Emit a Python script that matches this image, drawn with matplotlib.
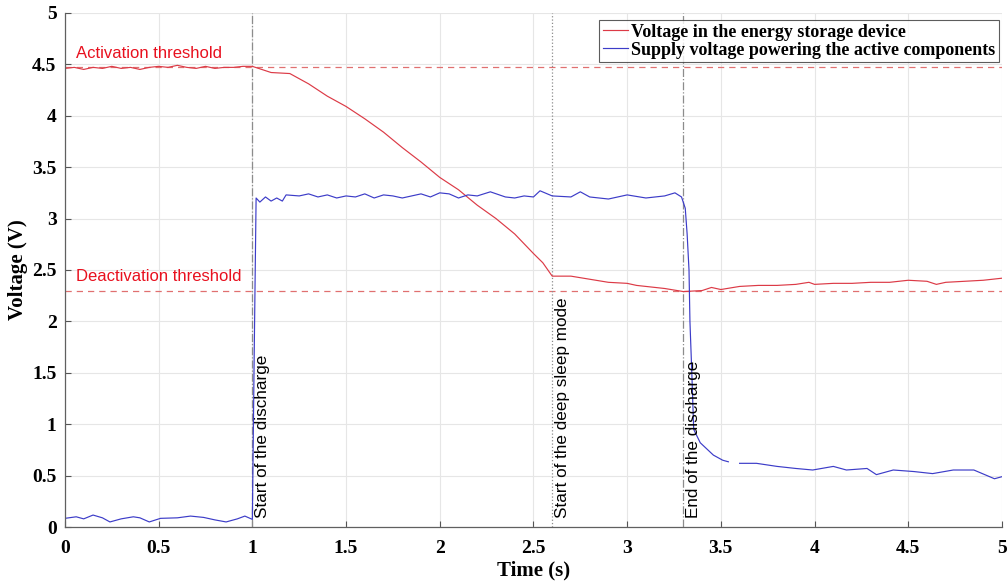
import numpy as np
import matplotlib
matplotlib.use("Agg")
import matplotlib.pyplot as plt

# Values
red_t = [0, 0.05, 0.1, 0.15, 0.2, 0.25, 0.3, 0.35, 0.4, 0.45, 0.5, 0.55, 0.6, 0.65,
         0.7, 0.75, 0.8, 0.85, 0.9, 0.95, 1.0, 1.05, 1.1, 1.2, 1.3, 1.4, 1.5, 1.6,
         1.7, 1.8, 1.9, 2.0, 2.1, 2.2, 2.3, 2.4, 2.5, 2.55, 2.6, 2.7, 2.8, 2.9, 3.0,
         3.05, 3.1, 3.2, 3.3, 3.4, 3.45, 3.5, 3.6, 3.7, 3.8, 3.9, 3.97, 4.0, 4.1,
         4.2, 4.3, 4.4, 4.5, 4.6, 4.65, 4.7, 4.8, 4.9, 5.0]
red_v = [4.46, 4.47, 4.45, 4.47, 4.46, 4.48, 4.46, 4.47, 4.45, 4.47, 4.48, 4.47,
         4.49, 4.47, 4.46, 4.48, 4.46, 4.47, 4.47, 4.48, 4.48, 4.45, 4.42, 4.41,
         4.31, 4.19, 4.09, 3.97, 3.84, 3.69, 3.55, 3.40, 3.28, 3.13, 3.00, 2.85,
         2.66, 2.57, 2.44, 2.44, 2.41, 2.38, 2.37, 2.35, 2.34, 2.32, 2.29, 2.30,
         2.33, 2.31, 2.34, 2.35, 2.35, 2.36, 2.38, 2.36, 2.37, 2.37, 2.38, 2.38,
         2.40, 2.39, 2.36, 2.38, 2.39, 2.40, 2.42]

blue_t = [0, 0.06, 0.1, 0.15, 0.2, 0.24, 0.3, 0.365, 0.4, 0.45, 0.51, 0.6, 0.67,
          0.74, 0.8, 0.86, 0.92, 0.96, 1.0, 1.01, 1.02, 1.04, 1.07, 1.1, 1.13,
          1.16, 1.18, 1.25, 1.3, 1.35, 1.4, 1.45, 1.5, 1.55, 1.6, 1.65, 1.7, 1.75,
          1.8, 1.85, 1.9, 1.95, 2.0, 2.05, 2.1, 2.15, 2.2, 2.27, 2.35, 2.4, 2.45,
          2.5, 2.535, 2.6, 2.7, 2.75, 2.8, 2.9, 3.0, 3.1, 3.2, 3.255, 3.29, 3.31,
          3.32, 3.33, 3.335, 3.345, 3.355, 3.39, 3.46, 3.51, 3.54, np.nan, 3.6,
          3.69, 3.8, 3.9, 3.99, 4.1, 4.17, 4.28, 4.33, 4.42, 4.53, 4.63, 4.74,
          4.85, 4.96, 5.0]
blue_v = [0.085, 0.10, 0.08, 0.117, 0.09, 0.05, 0.08, 0.10, 0.09, 0.05, 0.085,
          0.09, 0.107, 0.094, 0.07, 0.05, 0.08, 0.107, 0.075, 1.7, 3.20, 3.16,
          3.21, 3.17, 3.20, 3.17, 3.23, 3.22, 3.24, 3.21, 3.23, 3.20, 3.22, 3.21,
          3.24, 3.20, 3.23, 3.22, 3.20, 3.22, 3.24, 3.21, 3.25, 3.24, 3.20, 3.23,
          3.22, 3.26, 3.21, 3.20, 3.22, 3.21, 3.27, 3.22, 3.21, 3.26, 3.21, 3.19,
          3.23, 3.20, 3.22, 3.25, 3.21, 3.10, 2.85, 2.5, 2.0, 1.5, 0.95, 0.82,
          0.70, 0.65, 0.635, np.nan, 0.62, 0.62, 0.59, 0.57, 0.555, 0.59, 0.555,
          0.57, 0.51, 0.555, 0.54, 0.52, 0.555, 0.555, 0.47, 0.49]

act_th = 4.47
deact_th = 2.3
events = [1.0, 2.6, 3.3]
event_labels = ["Start of the discharge", "Start of the deep sleep mode", "End of the discharge"]
event_styles = ["-.", ":", "-."]

red = "#dc3a46"
blue = "#3c3cc8"

fig = plt.figure(figsize=(10.07, 5.85), dpi=100)
ax = fig.add_axes([0.0645, 0.099, 0.9305, 0.879])

serif = "Liberation Serif"

ax.grid(True, color="#e6e6e6", linewidth=0.8)
ax.set_axisbelow(True)

ax.axhline(act_th, color="#e07070", linestyle=(0, (5, 4)), linewidth=0.9)
ax.axhline(deact_th, color="#e07070", linestyle=(0, (5, 4)), linewidth=0.9)
for xe, st in zip(events, event_styles):
    ax.axvline(xe, color="#8c8c8c", linestyle=st, linewidth=0.9)

ax.plot(red_t, red_v, color=red, linewidth=0.85, label="Voltage in the energy storage device")
ax.plot(blue_t, blue_v, color=blue, linewidth=0.85, label="Supply voltage powering the active components")

ax.text(0.06, act_th + 0.06, "Activation threshold", color="#e8101e",
        fontsize=12, family="Liberation Sans", va="bottom", ha="left")
ax.text(0.06, deact_th + 0.06, "Deactivation threshold", color="#e8101e",
        fontsize=12, family="Liberation Sans", va="bottom", ha="left")
for xe, lab in zip(events, event_labels):
    ax.text(xe + 0.015, 0.09, lab, rotation=90, fontsize=12.3,
            family="Liberation Sans", va="bottom", ha="left", color="black")

ax.set_xlim(0, 5)
ax.set_ylim(0, 5)
ax.set_xticks(np.arange(0, 5.01, 0.5))
ax.set_yticks(np.arange(0, 5.01, 0.5))
ax.set_xticklabels(["0", "0.5", "1", "1.5", "2", "2.5", "3", "3.5", "4", "4.5", "5"])
ax.set_yticklabels(["0", "0.5", "1", "1.5", "2", "2.5", "3", "3.5", "4", "4.5", "5"])
ax.tick_params(direction="in", length=4, color="#555555", labelsize=14)
ax.tick_params(axis="x", pad=9)
ax.tick_params(axis="y", pad=6)
for lbl in ax.get_xticklabels() + ax.get_yticklabels():
    lbl.set_family(serif)
    lbl.set_fontweight("bold")

for s in ["top", "right"]:
    ax.spines[s].set_visible(False)
for s in ["left", "bottom"]:
    ax.spines[s].set_color("#606060")
    ax.spines[s].set_linewidth(0.9)

ax.set_xlabel("Time (s)", family=serif, fontweight="bold", fontsize=15, labelpad=3)
ax.set_ylabel("Voltage (V)", family=serif, fontweight="bold", fontsize=15, labelpad=3)

leg = ax.legend(loc="upper right", bbox_to_anchor=(0.9965, 0.986),
                prop={"family": serif, "weight": "bold", "size": 13},
                frameon=True, fancybox=False, handlelength=1.4, handletextpad=0.15,
                borderpad=0.2, labelspacing=0.05, borderaxespad=0.0)
leg.get_frame().set_edgecolor("#333333")
leg.get_frame().set_linewidth(0.8)

fig.savefig("out.png", dpi=100)
